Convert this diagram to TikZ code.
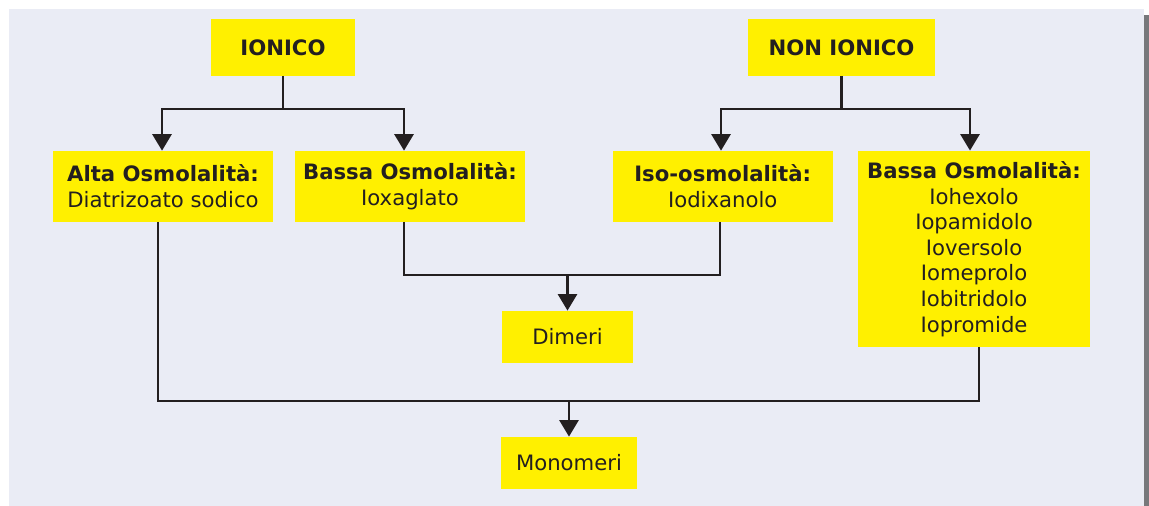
\documentclass[tikz,border=0pt]{standalone}
\usepackage{fontspec}
\setmainfont{DejaVu Sans}
\usetikzlibrary{arrows.meta,positioning,calc}

\definecolor{panelbg}{HTML}{EAECF5}
\definecolor{boxyellow}{HTML}{FFF000}
\definecolor{inkdark}{HTML}{231F20}
\definecolor{edgegrey}{HTML}{77787B}

\begin{document}
\begin{tikzpicture}[
    x=0.5pt, y=-0.5pt,
    font=\fontsize{10.6}{12.8}\selectfont,
    box/.style={
        fill=boxyellow,
        text=inkdark,
        align=center,
        inner sep=0pt
    },
    headbox/.style={box, minimum height=28.3pt},
    classbox/.style={box, minimum height=35.25pt},
    resultbox/.style={box, minimum height=26pt},
    link/.style={line width=1.2pt, draw=inkdark},
    arrow/.style={link, -{Triangle[length=8.2pt,width=9.5pt]}}
]

% page and panel
\useasboundingbox (0,0) rectangle (1149,506);
\fill[panelbg] (9,9) rectangle (1144,506);
\fill[edgegrey] (1144,15) rectangle (1149,506);

% top level
\node[headbox, minimum width=72pt] (ionico) at (283,47.3) {\textbf{IONICO}};
\node[headbox, minimum width=93.5pt] (nonionico) at (841.5,47.3) {\textbf{NON IONICO}};

% osmolality classes
\node[classbox, minimum width=110pt] (alta) at (163,186.3) {\textbf{Alta Osmolalità:}\\Diatrizoato sodico};
\node[classbox, minimum width=115pt] (bassaion) at (410,186.3) {\textbf{Bassa Osmolalità:}\\Ioxaglato};
\node[classbox, minimum width=110pt] (iso) at (722.7,186.3) {\textbf{Iso-osmolalità:}\\Iodixanolo};
\node[box, minimum width=116pt, minimum height=98pt] (bassanon) at (974,249) {\textbf{Bassa Osmolalità:}\\Iohexolo\\Iopamidolo\\Ioversolo\\Iomeprolo\\Iobitridolo\\Iopromide};

% structure
\node[resultbox, minimum width=65.5pt] (dimeri) at (567.5,337) {Dimeri};
\node[resultbox, minimum width=68pt] (monomeri) at (569,463) {Monomeri};

% branches from the two families
\coordinate (ionsplit) at (283,109);
\coordinate (nonsplit) at (841.5,109);
\draw[link] (ionico) -- (ionsplit);
\draw[arrow] (ionsplit) -| ([xshift=-0.5pt]alta.north);
\draw[arrow] (ionsplit) -| ([xshift=-3pt]bassaion.north);
\draw[link] (nonionico) -- (nonsplit);
\draw[arrow] (nonsplit) -| ([xshift=-0.85pt]iso.north);
\draw[arrow] (nonsplit) -| ([xshift=-2pt]bassanon.north);

% dimers
\coordinate (dimjoin) at (567.5,275);
\draw[link] ([xshift=-3pt]bassaion.south) |- (dimjoin) -| ([xshift=-1.35pt]iso.south);
\draw[arrow] (dimjoin) -- (dimeri);

% monomers
\coordinate (monojoin) at (569,401);
\draw[link] ([xshift=-2.5pt]alta.south) |- (monojoin) -| ([xshift=2.5pt]bassanon.south);
\draw[arrow] (monojoin) -- (monomeri);

\end{tikzpicture}
\end{document}
